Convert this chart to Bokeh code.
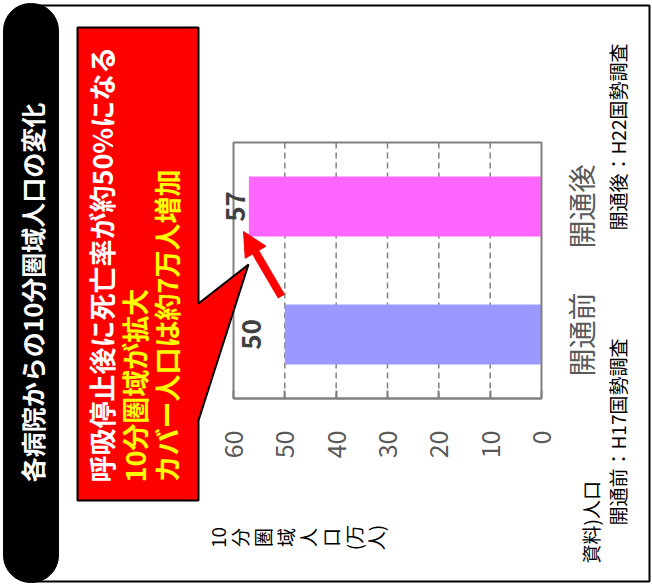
import math

from bokeh.core.properties import value
from bokeh.embed import file_html
from bokeh.models import (Arrow, BoxAnnotation, ColumnDataSource, FixedTicker, Label,
                          LabelSet, NormalHead, PolyAnnotation, Range1d)
from bokeh.plotting import figure
from bokeh.resources import INLINE

# --- data -------------------------------------------------------------------
periods = ["開通前", "開通後"]
population = [50, 57]            # 10-minute-zone population (10k people)
bar_colors = ["#9999FF", "#FF66FF"]
value_ticks = [0, 10, 20, 30, 40, 50, 60]

title_text = "各病院からの10分圏域人口の変化"
callout_lines = ["呼吸停止後に死亡率が約50%になる", "10分圏域が拡大", "カバー人口は約7万人増加"]
axis_title = "10\n分\n圏\n域\n人\n口\n(万\n人)"
source_lines = ["資料)人口", "開通前：H17国勢調査", "開通後：H22国勢調査"]

# pixel nudges for the value labels (away from the bar ends)
value_label_offsets = [-33, -13]

# --- page geometry ----------------------------------------------------------
W, H = 652, 585
AREA_L, AREA_R, AREA_T, AREA_B = 233, 541, 142, 398   # plot area on the page
VMAX = value_ticks[-1]
N = len(periods)

FONT = "Noto Sans CJK JP"
UP = math.pi / 2        # whole layout is turned a quarter turn counter-clockwise
GRAY = "#808080"
TEXT_GRAY = "#595959"

# value axis runs right-to-left; the frame fills the page so the ranges
# are widened to put the plot area where it belongs
ux = VMAX / (AREA_R - AREA_L)
uy = N / (AREA_B - AREA_T)
x_range = Range1d(VMAX + AREA_L * ux, 0 - (W - AREA_R) * ux)
y_range = Range1d(0 - (H - AREA_B) * uy, N + AREA_T * uy)

cat_pos = [i + 0.5 for i in range(N)]

src = ColumnDataSource(dict(
    pos=cat_pos,
    value=population,
    color=bar_colors,
    label=[str(v) for v in population],
    offset=value_label_offsets,
))

p = figure(width=W, height=H, output_backend="svg", toolbar_location=None,
           x_range=x_range, y_range=y_range,
           x_axis_location="below", y_axis_location=None, min_border=0)
p.background_fill_color = "white"
p.border_fill_color = "white"
p.outline_line_color = None
p.xgrid.visible = False
p.ygrid.visible = False

# dashed value gridlines
grid_vals = value_ticks[1:-1]
p.segment(x0=grid_vals, x1=grid_vals, y0=[0] * len(grid_vals), y1=[N] * len(grid_vals),
          line_color=GRAY, line_width=1.5, line_dash="6 4")

p.hbar(y="pos", left=0, right="value", height=0.47, fill_color="color",
       line_color=None, source=src)

# plot-area border
p.quad(left=[0], right=[VMAX], bottom=[0], top=[N], fill_color=None,
       line_color=GRAY, line_width=2)

# value axis along the bottom of the plot area
xa = p.xaxis[0]
xa.fixed_location = 0
xa.bounds = (0, VMAX)
xa.ticker = FixedTicker(ticks=value_ticks)
xa.major_label_orientation = UP
xa.major_label_text_font = FONT
xa.major_label_text_font_size = "25px"
xa.major_label_text_color = TEXT_GRAY
xa.major_label_standoff = 32
xa.major_tick_in = 8
xa.major_tick_out = 0
xa.major_tick_line_color = GRAY
xa.major_tick_line_width = 2
xa.minor_tick_line_color = None
xa.axis_line_color = GRAY
xa.axis_line_width = 2

# value labels
p.add_layout(LabelSet(x="value", y="pos", text="label", source=src, angle=UP,
                      x_offset="offset", text_align="center", text_baseline="middle",
                      text_font=value(FONT), text_font_size="26px",
                      text_font_style="bold", text_color="#404040"))

# category labels, to the right of the zero line
for pos, name in zip(cat_pos, periods):
    p.add_layout(Label(x=0, y=pos, x_offset=19, text=name, angle=UP,
                       text_align="center", text_baseline="top",
                       text_font=FONT, text_font_size="28px", text_color=TEXT_GRAY))

# --- frame, title pill, callout ---------------------------------------------
def canvas_box(**kw):
    return BoxAnnotation(left_units="canvas", right_units="canvas",
                         top_units="canvas", bottom_units="canvas", **kw)

p.add_layout(canvas_box(left=30, right=649, top=5, bottom=581, fill_color=None,
                        line_color="black", line_alpha=1, line_width=2))
p.add_layout(canvas_box(left=3, right=58, top=3, bottom=582, fill_color="black",
                        fill_alpha=1, line_color="black", line_alpha=1,
                        border_radius=27))

p.add_layout(PolyAnnotation(xs=[77, 198, 198, 248, 198, 198, 77],
                            ys=[27, 27, 303, 264, 420, 500, 500],
                            xs_units="canvas", ys_units="canvas",
                            fill_color="#FF0000", fill_alpha=1,
                            line_color="black", line_alpha=1, line_width=2))

p.add_layout(Arrow(x_start=281, y_start=296, x_end=243, y_end=231,
                   start_units="canvas", end_units="canvas",
                   line_color="#FF0000", line_width=8,
                   end=NormalHead(size=24, fill_color="#FF0000", line_color="#FF0000")))


def canvas_text(x, y, text, size, color="black", bold=False, align="left",
                baseline="middle", **kw):
    p.add_layout(Label(x=x, y=y, x_units="canvas", y_units="canvas", text=text,
                       angle=UP, text_font=FONT, text_font_size=size,
                       text_font_style="bold" if bold else "normal",
                       text_color=color, text_align=align, text_baseline=baseline, **kw))


canvas_text(31, 292, title_text, "25px", color="white", bold=True, align="center")

for xc, line, color in zip([101, 134, 166], callout_lines, ["white", "#FFFF00", "#FFFF00"]):
    canvas_text(xc, 482, line, "27px", color=color, bold=True)

canvas_text(203, 537, axis_title, "19px", align="center", baseline="top",
            text_line_height=0.84)

canvas_text(590, 563, source_lines[0], "19px")
canvas_text(617, 525, source_lines[1], "19px")
canvas_text(617, 230, source_lines[2], "19px")

open("out.html", "w").write(file_html(p, INLINE))
